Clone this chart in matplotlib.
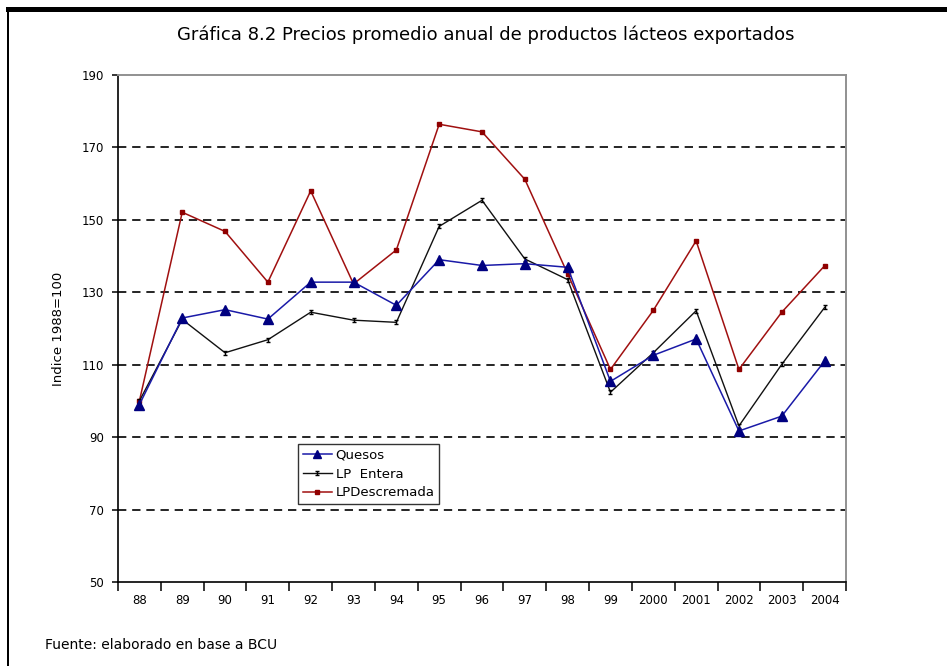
import matplotlib
matplotlib.use("Agg")
import matplotlib.pyplot as plt
from matplotlib.path import Path
from matplotlib.patches import Rectangle

years = ["88", "89", "90", "91", "92", "93", "94", "95", "96", "97", "98",
         "99", "2000", "2001", "2002", "2003", "2004"]
quesos = [99, 122.9, 125.2, 122.6, 132.8, 132.8, 126.4, 139.0, 137.4, 137.9,
          136.9, 105.4, 112.6, 117.1, 91.7, 95.8, 111.0]
lp_entera = [100, 122.5, 113.3, 116.9, 124.5, 122.3, 121.7, 148.2, 155.4, 139.2,
             133.5, 102.4, 113.3, 124.9, 93.1, 110.1, 125.8]
lp_descremada = [100, 152.1, 146.8, 132.8, 158.0, 132.3, 141.7, 176.4, 174.3, 161.2,
                 135.1, 108.7, 125.0, 144.2, 108.7, 124.5, 137.3]
yticks = [50, 70, 90, 110, 130, 150, 170, 190]

plt.rcParams['font.family'] = ['DejaVu Sans']

fig = plt.figure(figsize=(9.47, 6.66), dpi=100)
ax = fig.add_axes([118/947, 1 - 582/666, (846-118)/947, (582-75)/666])

x = list(range(len(years)))

ibeam = Path([(-1, 1), (1, 1), (0, 1), (0, -1), (-1, -1), (1, -1)],
             [Path.MOVETO, Path.LINETO, Path.MOVETO, Path.LINETO, Path.MOVETO, Path.LINETO])

ax.plot(x, quesos, color='#1a1aa8', lw=1.1, marker='^', ms=6.5,
        mfc='#000080', mec='#000080', label='Quesos', zorder=4)
ax.plot(x, lp_entera, color='#111111', lw=1.0, marker=ibeam, ms=3.5,
        mec='#000000', mew=1.0, label='LP  Entera', zorder=3)
ax.plot(x, lp_descremada, color='#a01010', lw=1.1, marker='s', ms=3,
        mfc='#900000', mec='#900000', label='LPDescremada', zorder=2)

ax.set_xlim(-0.5, len(years) - 0.5)
ax.set_ylim(50, 190)
ax.set_yticks(yticks)
ax.set_yticklabels([str(v) for v in yticks])

for v in yticks[1:-1]:
    ax.axhline(v, color='black', lw=1.2, ls=(0, (5, 3.5)), zorder=1)

ax.set_xticks([i + 0.5 for i in range(-1, len(years))])
ax.set_xticklabels([])
ax.set_xticks(x, minor=True)
ax.set_xticklabels(years, minor=True)
ax.tick_params(axis='x', which='major', direction='out', length=6.5, width=1.1, color='black')
ax.tick_params(axis='x', which='minor', length=0, pad=9, labelsize=8.5)
ax.tick_params(axis='y', direction='out', length=4, width=1.1, pad=6, labelsize=8.5)

ax.spines['left'].set_color('black')
ax.spines['left'].set_linewidth(1.2)
ax.spines['bottom'].set_color('black')
ax.spines['bottom'].set_linewidth(1.2)
ax.spines['top'].set_color('#909090')
ax.spines['top'].set_linewidth(1.4)
ax.spines['right'].set_color('#909090')
ax.spines['right'].set_linewidth(1.4)

ax.set_ylabel('Indice 1988=100', fontsize=9.5, labelpad=12)

leg = ax.legend(loc='upper left', bbox_to_anchor=((298-118)/728, (582-444)/507),
                fontsize=9.5, frameon=True, fancybox=False, shadow=False,
                handlelength=2.2, handletextpad=0.3, borderpad=0.35,
                labelspacing=0.45, borderaxespad=0, markerscale=0.85)
leg.get_frame().set_edgecolor('black')
leg.get_frame().set_linewidth(1.0)

fig.text(486/947, 1 - 35/666, 'Gráfica 8.2 Precios promedio anual de productos lácteos exportados',
         ha='center', va='center', fontsize=13)
fig.text(45/947, 1 - 645/666, 'Fuente: elaborado en base a BCU',
         ha='left', va='center', fontsize=10)

# frame decorations
fig.add_artist(Rectangle((6/947, 1 - 11.5/666), 1 - 6/947, 5/666,
                         transform=fig.transFigure, color='black', lw=0))
fig.add_artist(Rectangle((6.5/947, 0), 2.5/947, 1 - 7/666,
                         transform=fig.transFigure, color='black', lw=0))

fig.savefig('out.png', dpi=100)
